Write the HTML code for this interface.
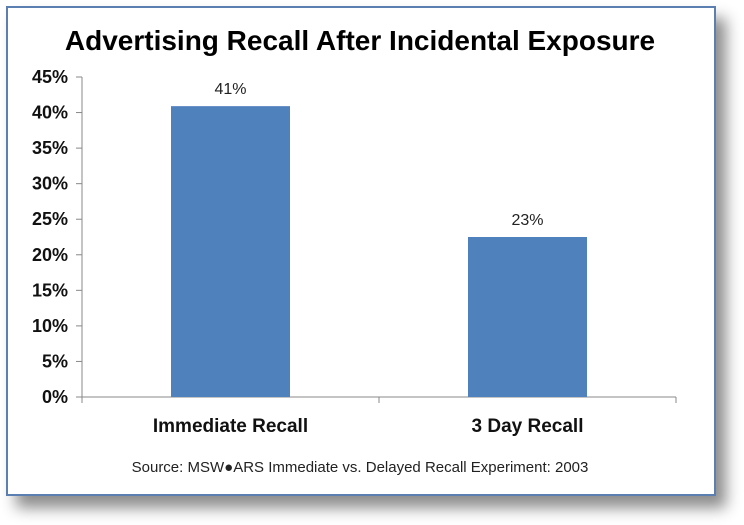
<!DOCTYPE html>
<html><head><meta charset="utf-8"><style>
body{margin:0;width:744px;height:525px;background:#fff;overflow:hidden;font-family:"Liberation Sans",sans-serif}
#frame{position:absolute;left:6px;top:6px;width:706px;height:486px;border:2px solid #5a7fb0;background:#fff;box-shadow:10px 12px 14px rgba(0,0,0,0.45)}
</style></head><body>
<div id="frame"></div>
<svg id="chart" width="744" height="525" style="position:absolute;left:0;top:0">
<text x="360" y="50" text-anchor="middle" font-size="28" font-weight="bold" fill="#000">Advertising Recall After Incidental Exposure</text>
<g id="axes"></g><g id="bars"></g>
<text x="360" y="472" text-anchor="middle" font-size="15" fill="#222">Source: MSW●ARS Immediate vs. Delayed Recall Experiment: 2003</text>
</svg>
<script>
const categories=["Immediate Recall","3 Day Recall"];
const values=[40.9,22.5];
const valueLabels=["41%","23%"];
const ticks=[0,5,10,15,20,25,30,35,40,45];
const NS="http://www.w3.org/2000/svg";
const x0=82,x1=676,yTop=77,yBot=397,maxV=45;
const y=v=>yBot-(v/maxV)*(yBot-yTop);
const bw=(x1-x0)/categories.length;
const ax=document.getElementById('axes'),bg=document.getElementById('bars');
function mk(tag,attrs,parent,text){const e=document.createElementNS(NS,tag);for(const k in attrs)e.setAttribute(k,attrs[k]);if(text!==undefined)e.textContent=text;parent.appendChild(e);return e;}
let l=mk('line',{x1:x0,y1:yTop,x2:x0,y2:yBot,stroke:'#888'},ax);


l=mk('line',{x1:x0,y1:yBot,x2:x1,y2:yBot,stroke:'#888'},ax);


ticks.forEach(t=>{
 mk('line',{x1:x0-6,y1:y(t),x2:x0,y2:y(t),stroke:'#888'},ax);
 const tx=mk('text',{x:x0-14,y:y(t)+6,'text-anchor':'end','font-size':18,'font-weight':'bold',fill:'#111'},ax,t+'%');
 
 
});
[0,1,2].forEach(i=>mk('line',{x1:x0+i*bw,y1:yBot,x2:x0+i*bw,y2:yBot+6,stroke:'#888'},ax));
categories.forEach((c,i)=>{
 const cx=x0+bw*(i+0.5),w=119;
 const r=mk('rect',{x:cx-w/2,y:y(values[i]),width:w,height:yBot-y(values[i]),fill:'#4f81bd'},bg);
 
 
 const vl=mk('text',{x:cx,y:y(values[i])-12,'text-anchor':'middle','font-size':16,fill:'#222'},bg,valueLabels[i]);
 
 
 const cl=mk('text',{x:cx,y:432,'text-anchor':'middle','font-size':19,'font-weight':'bold',fill:'#111'},bg,c);
 
 
});
</script>
</body></html>
